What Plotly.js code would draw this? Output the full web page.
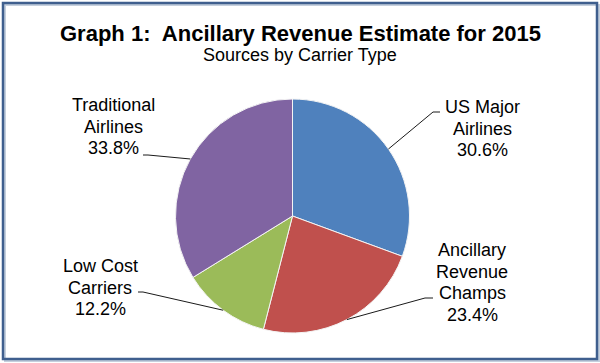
<!DOCTYPE html>
<html><head><meta charset="utf-8">
<script src="https://cdn.plot.ly/plotly-3.0.1.min.js"></script>
<style>html,body{margin:0;padding:0;background:#fff}</style>
</head><body>
<div id="chart" style="width:600px;height:363px"></div>
<script>
// ---- data ----
const categories = ["US Major Airlines", "Ancillary Revenue Champs", "Low Cost Carriers", "Traditional Airlines"];
const labelLines = [["US Major", "Airlines"], ["Ancillary", "Revenue", "Champs"], ["Low Cost", "Carriers"], ["Traditional", "Airlines"]];
const shares = [30.6, 23.4, 12.2, 33.8];
const titleText = "Graph 1:\u00a0 Ancillary Revenue Estimate for 2015";
const subtitleText = "Sources by Carrier Type";

// ---- styles / layout config ----
const colors = ["#4f81bd", "#c0504d", "#9bbb59", "#8064a2"];
const W = 600, H = 363;
const pie = {left: 175.5, right: 409.5, top: 99, bottom: 333};
const labelPos = [
  {cx: 482, cy: 107, elbow: [433, 112], end: [440, 112]},
  {cx: 472, cy: 250, elbow: [425, 298], end: [433, 298]},
  {cx: 100, cy: 266, elbow: [143, 292], end: [138, 292]},
  {cx: 113, cy: 105, elbow: [148, 155], end: [143, 155]}
];
const lineStep = 21.5;
const font = "'Liberation Sans', Arial, sans-serif";

const px = x => x / W;
const py = y => 1 - y / H;

const total = shares.reduce((a, b) => a + b, 0);
const cxPie = (pie.left + pie.right) / 2, cyPie = (pie.top + pie.bottom) / 2;
const R = Math.min(pie.right - pie.left, pie.bottom - pie.top) / 2;

const annotations = [];
const shapes = [];

annotations.push({x: 0.5, y: py(33), xref: 'paper', yref: 'paper', text: '<b>' + titleText + '</b>',
  showarrow: false, xanchor: 'center', yanchor: 'middle', font: {family: font, size: 22, color: '#000'}});
annotations.push({x: 0.5, y: py(55), xref: 'paper', yref: 'paper', text: subtitleText,
  showarrow: false, xanchor: 'center', yanchor: 'middle', font: {family: font, size: 18, color: '#000'}});

let cum = 0;
shares.forEach((v, i) => {
  const mid = (cum + v / 2) / total * 2 * Math.PI;
  cum += v;
  const ex = cxPie + R * Math.sin(mid), ey = cyPie - R * Math.cos(mid);
  const lp = labelPos[i];
  const lines = labelLines[i].concat([v.toFixed(1) + '%']);
  lines.forEach((t, j) => {
    annotations.push({x: px(lp.cx), y: py(lp.cy + j * lineStep), xref: 'paper', yref: 'paper', text: t,
      showarrow: false, xanchor: 'center', yanchor: 'middle', font: {family: font, size: 18, color: '#000'}});
  });
  shapes.push({type: 'path', xref: 'paper', yref: 'paper',
    path: `M${px(ex)},${py(ey)} L${px(lp.elbow[0])},${py(lp.elbow[1])} L${px(lp.end[0])},${py(lp.end[1])}`,
    line: {color: '#1a1a1a', width: 1}});
});

// frame with soft shadow
shapes.push({type: 'rect', xref: 'paper', yref: 'paper', x0: px(5), x1: px(599), y0: py(5), y1: py(361),
  line: {color: '#c5cfdd', width: 2}});
shapes.push({type: 'rect', xref: 'paper', yref: 'paper', x0: px(3), x1: px(597), y0: py(3), y1: py(359),
  line: {color: '#3f5f8e', width: 2.5}});

const trace = {
  type: 'pie', labels: categories, values: shares, sort: false, direction: 'clockwise', rotation: 0,
  marker: {colors: colors, line: {color: '#f4f4f4', width: 1}},
  textinfo: 'none', hoverinfo: 'label+percent', showlegend: false,
  domain: {x: [px(pie.left), px(pie.right)], y: [py(pie.bottom), py(pie.top)]}
};

Plotly.newPlot('chart', [trace], {
  width: W, height: H, margin: {l: 0, r: 0, t: 0, b: 0},
  paper_bgcolor: '#ffffff', showlegend: false,
  annotations: annotations, shapes: shapes
}, {staticPlot: true, displayModeBar: false});
</script>
</body></html>
